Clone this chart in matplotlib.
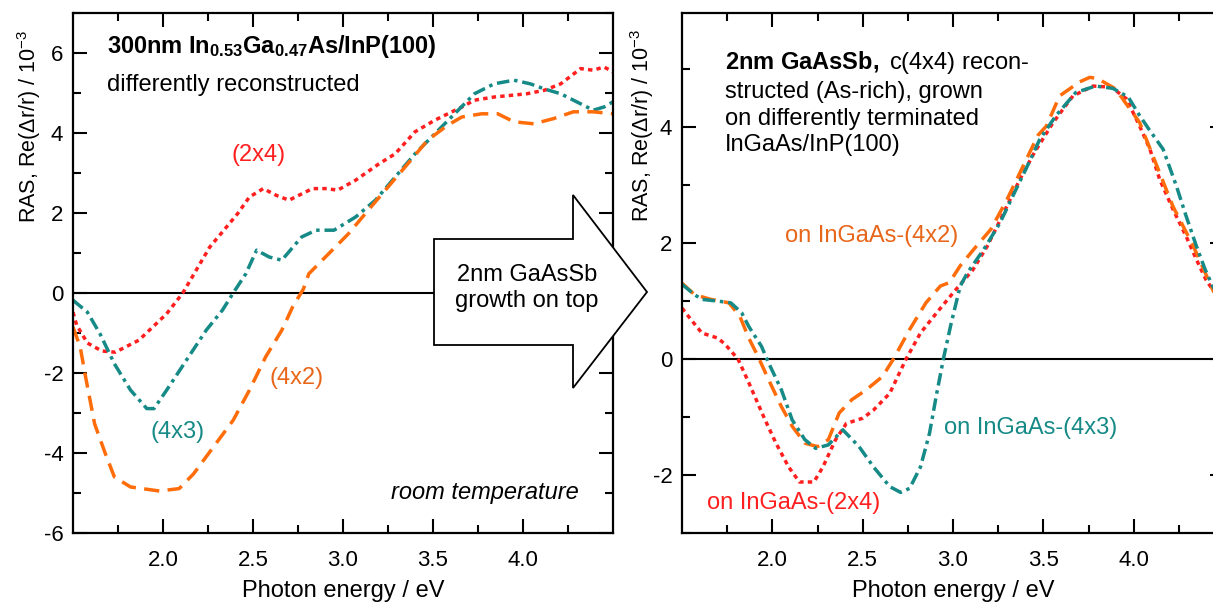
import matplotlib
matplotlib.use("Agg")
import matplotlib.pyplot as plt
from matplotlib.patches import Polygon
from matplotlib.ticker import MultipleLocator, FixedLocator

plt.rcParams['font.family'] = ['Liberation Sans', 'DejaVu Sans']
plt.rcParams['mathtext.fontset'] = 'custom'
plt.rcParams['mathtext.rm'] = 'Liberation Sans'
plt.rcParams['mathtext.it'] = 'Liberation Sans:italic'
plt.rcParams['mathtext.bf'] = 'Liberation Sans:bold'
plt.rcParams['lines.scale_dashes'] = False
plt.rcParams['axes.unicode_minus'] = False

RED = '#ff1f1f'
TEAL = '#168a86'
ORANGE = '#ff6c0a'
ORANGE_TXT = '#e8661a'

# ---- left panel: InGaAs reconstructions ----
left_e_2x4 = [1.50, 1.52, 1.58, 1.66, 1.735, 1.866, 2.02, 2.11, 2.26, 2.414, 2.48, 2.557, 2.63, 2.70,
              2.83, 2.91, 2.97, 3.07, 3.20, 3.29, 3.40, 3.51, 3.66, 3.73, 3.84, 4.02, 4.12, 4.21,
              4.32, 4.39, 4.45, 4.50]
left_v_2x4 = [-0.48, -0.80, -1.25, -1.45, -1.48, -1.18, -0.52, 0.0, 1.15, 1.98, 2.40, 2.61, 2.44, 2.32,
              2.61, 2.61, 2.57, 2.82, 3.23, 3.48, 4.03, 4.32, 4.65, 4.82, 4.90, 4.98, 5.07, 5.23,
              5.61, 5.57, 5.65, 5.53]

left_e_4x3 = [1.50, 1.58, 1.65, 1.73, 1.82, 1.91, 1.95, 2.02, 2.13, 2.24, 2.33, 2.39, 2.46, 2.52,
              2.59, 2.66, 2.77, 2.85, 2.95, 3.07, 3.18, 3.29, 3.40, 3.51, 3.62, 3.73, 3.84, 3.95,
              4.04, 4.12, 4.21, 4.32, 4.39, 4.45, 4.50]
left_v_4x3 = [-0.18, -0.48, -1.02, -1.77, -2.43, -2.89, -2.89, -2.43, -1.68, -0.93, -0.43, 0.0, 0.48, 1.07,
              0.90, 0.82, 1.40, 1.57, 1.57, 1.90, 2.32, 2.90, 3.48, 3.98, 4.48, 4.98, 5.23, 5.32,
              5.23, 5.10, 4.98, 4.73, 4.57, 4.65, 4.78]

left_e_4x2 = [1.50, 1.54, 1.57, 1.62, 1.68, 1.73, 1.82, 1.98, 2.09, 2.17, 2.28, 2.39, 2.48, 2.57,
              2.66, 2.72, 2.78, 2.81, 2.92, 3.03, 3.14, 3.25, 3.36, 3.47, 3.58, 3.66, 3.77, 3.86,
              3.95, 4.06, 4.17, 4.28, 4.39, 4.50]
left_v_4x2 = [-0.85, -1.35, -2.10, -3.27, -4.02, -4.60, -4.85, -4.95, -4.89, -4.52, -3.85, -3.18, -2.43, -1.60,
              -0.93, -0.35, 0.10, 0.48, 0.98, 1.48, 2.07, 2.65, 3.23, 3.82, 4.19, 4.40, 4.48, 4.48,
              4.28, 4.23, 4.36, 4.53, 4.53, 4.48]

# ---- right panel: 2nm GaAsSb on top ----
right_e_2x4 = [1.50, 1.55, 1.61, 1.70, 1.74, 1.81, 1.87, 1.96, 2.02, 2.09, 2.15, 2.23, 2.28, 2.35,
               2.41, 2.50, 2.56, 2.65, 2.74, 2.82, 2.91, 3.00, 3.11, 3.19, 3.28, 3.37, 3.45, 3.554,
               3.664, 3.775, 3.877, 3.96, 4.033, 4.09, 4.144, 4.218, 4.29, 4.347, 4.40, 4.437, 4.50]
right_v_2x4 = [0.88, 0.68, 0.45, 0.36, 0.25, 0.0, -0.41, -1.05, -1.45, -1.86, -2.12, -2.12, -1.86, -1.39,
               -1.11, -1.02, -0.88, -0.59, 0.0, 0.45, 0.80, 1.14, 1.54, 1.95, 2.52, 3.10, 3.56, 4.08,
               4.54, 4.71, 4.69, 4.49, 4.02, 3.62, 3.10, 2.58, 2.12, 1.72, 1.37, 1.20, 0.85]

right_e_4x3 = [1.50, 1.57, 1.61, 1.70, 1.77, 1.83, 1.87, 1.94, 1.98, 2.05, 2.11, 2.18, 2.24, 2.31,
               2.39, 2.48, 2.56, 2.65, 2.71, 2.76, 2.82, 2.87, 2.91, 2.95, 2.99, 3.04, 3.08, 3.17,
               3.26, 3.34, 3.43, 3.48, 3.57, 3.68, 3.79, 3.885, 3.97, 4.033, 4.09, 4.163, 4.236, 4.29,
               4.347, 4.395, 4.437, 4.50]
right_v_4x3 = [1.29, 1.11, 1.03, 1.00, 0.97, 0.80, 0.56, 0.22, -0.07, -0.53, -1.05, -1.39, -1.54, -1.48,
               -1.22, -1.51, -1.86, -2.20, -2.30, -2.23, -1.86, -1.28, -0.59, 0.05, 0.62, 1.26, 1.49, 1.89,
               2.35, 2.87, 3.45, 3.79, 4.20, 4.60, 4.71, 4.67, 4.52, 4.20, 3.94, 3.62, 2.99, 2.47,
               1.95, 1.55, 1.26, 0.90]

right_e_4x2 = [1.50, 1.57, 1.66, 1.76, 1.82, 1.87, 1.92, 1.98, 2.05, 2.11, 2.18, 2.25, 2.31, 2.37,
               2.44, 2.52, 2.61, 2.67, 2.76, 2.85, 2.93, 2.98, 3.04, 3.13, 3.21, 3.30, 3.39, 3.47,
               3.517, 3.59, 3.70, 3.757, 3.80, 3.90, 4.033, 4.107, 4.218, 4.33, 4.437, 4.50]
right_v_4x2 = [1.31, 1.11, 1.03, 0.97, 0.74, 0.36, 0.05, -0.36, -0.82, -1.16, -1.45, -1.51, -1.39, -0.93,
               -0.70, -0.53, -0.30, 0.0, 0.51, 0.97, 1.26, 1.32, 1.61, 1.95, 2.24, 2.76, 3.34, 3.86,
               4.02, 4.54, 4.78, 4.86, 4.84, 4.66, 4.08, 3.50, 2.63, 1.95, 1.20, 0.85]

x_major = [2.0, 2.5, 3.0, 3.5, 4.0]
x_minor = [1.75, 2.25, 2.75, 3.25, 3.75, 4.25]

W, H = 1213, 603
fig = plt.figure(figsize=(W / 100, H / 100), dpi=100)


def px(x0, y0, x1, y1):
    return [x0 / W, 1 - y1 / H, (x1 - x0) / W, (y1 - y0) / H]


ax1 = fig.add_axes(px(73, 13, 613, 533))
ax2 = fig.add_axes(px(682, 13, 1224, 533))

styles = dict(
    red=dict(color=RED, lw=2.5, dashes=(3.2, 3.0)),
    orange=dict(color=ORANGE, lw=2.5, dashes=(11, 6)),
    teal=dict(color=TEAL, lw=2.5, dashes=(9, 3.5, 2.5, 3.5)),
)

FS = 17

for ax in (ax1, ax2):
    ax.axhline(0, color='black', lw=1.5, zorder=1)
    ax.set_xlim(1.5, 4.5)
    ax.xaxis.set_major_locator(FixedLocator(x_major))
    ax.xaxis.set_minor_locator(FixedLocator(x_minor))
    ax.xaxis.set_major_formatter(matplotlib.ticker.FormatStrFormatter('%.1f'))
    ax.yaxis.set_major_locator(MultipleLocator(2))
    ax.yaxis.set_minor_locator(MultipleLocator(1))
    ax.tick_params(which='both', direction='in', top=True, right=True, width=1.5,
                   labelsize=16, colors='black')
    ax.tick_params(which='major', length=10)
    ax.tick_params(axis='x', which='major', pad=12)
    ax.tick_params(axis='y', which='major', pad=7)
    ax.tick_params(which='minor', length=5.5)
    for s in ax.spines.values():
        s.set_linewidth(1.6)
    ax.set_xlabel('Photon energy / eV', fontsize=FS, labelpad=7)
    ax.set_ylabel(r'RAS, Re($\Delta$r/r) / 10$^{-3}$', fontsize=15.5)

# y labels sit in the upper part of each panel (x = right edge of the rotated label)
ax1.yaxis.set_label_coords((43 - 73) / 540, (533 - 126) / 520)
ax2.yaxis.set_label_coords((656 - 682) / 542, (533 - 125) / 520)

ax1.set_ylim(-6, 7)
ax2.set_ylim(-3, 5.97)

ax1.plot(left_e_2x4, left_v_2x4, **styles['red'])
ax1.plot(left_e_4x3, left_v_4x3, **styles['teal'])
ax1.plot(left_e_4x2, left_v_4x2, **styles['orange'])

ax2.plot(right_e_2x4, right_v_2x4, **styles['red'])
ax2.plot(right_e_4x2, right_v_4x2, **styles['orange'])
ax2.plot(right_e_4x3, right_v_4x3, **styles['teal'])

# left annotations
ax1.text(1.69, 6.15, r'$\mathbf{300nm\ In_{0.53}Ga_{0.47}As/InP(100)}$', fontsize=FS, va='center')
ax1.text(1.69, 5.2, 'differently reconstructed', fontsize=FS, va='center')
ax1.text(2.53, 3.45, '(2x4)', color=RED, fontsize=FS, ha='center', va='center')
ax1.text(2.08, -3.47, '(4x3)', color=TEAL, fontsize=FS, ha='center', va='center')
ax1.text(2.74, -2.13, '(4x2)', color=ORANGE_TXT, fontsize=FS, ha='center', va='center')
ax1.text(4.31, -5.0, 'room temperature', fontsize=FS, style='italic', ha='right', va='center')

# right annotations
ax2.text(1.74, 4.42, r'$\mathbf{2nm\ GaAsSb,}$ c(4x4) recon-' + '\nstructed (As-rich), grown\n'
         'on differently terminated\nInGaAs/InP(100)', fontsize=FS, va='center', linespacing=1.27)
ax2.text(2.07, 2.12, 'on InGaAs-(4x2)', color=ORANGE_TXT, fontsize=FS, va='center')
ax2.text(2.95, -1.19, 'on InGaAs-(4x3)', color=TEAL, fontsize=FS, va='center')
ax2.text(1.64, -2.49, 'on InGaAs-(2x4)', color=RED, fontsize=FS, va='center')

# block arrow between the panels
arrow_px = [(434, 239), (573, 239), (573, 195), (647, 292), (573, 388), (573, 345), (434, 345)]
arrow = Polygon([(x / W, 1 - y / H) for x, y in arrow_px], closed=True, transform=fig.transFigure,
                facecolor='white', edgecolor='black', lw=1.3, zorder=10)
fig.add_artist(arrow)
fig.text(527 / W, 1 - 288 / H, '2nm GaAsSb\ngrowth on top', fontsize=FS, ha='center', va='center',
         linespacing=1.25, zorder=11)

fig.savefig('out.png', dpi=100)
